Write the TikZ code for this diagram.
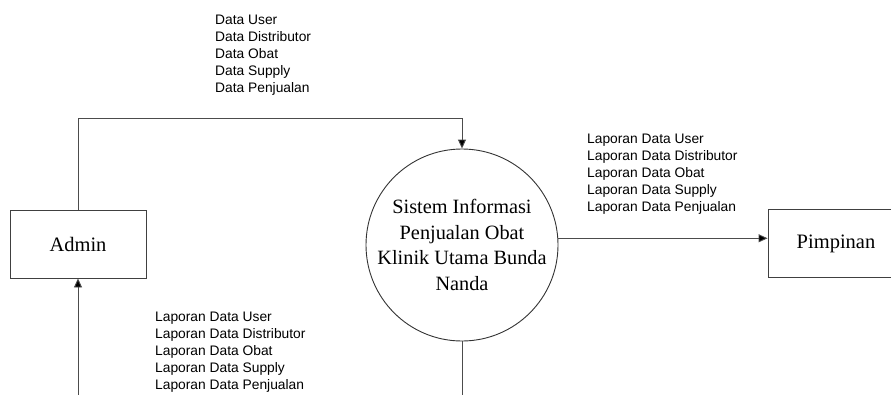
\documentclass[tikz,border=0pt]{standalone}
\usepackage{fontspec}
\setmainfont{Liberation Serif}
\setsansfont{Liberation Sans}
\usetikzlibrary{arrows.meta}
\begin{document}
\begin{tikzpicture}[x=1pt,y=-1pt,
  entity/.style={draw=black!75,line width=0.9pt,minimum width=136pt,minimum height=68pt,inner sep=0pt,font=\fontsize{20.5}{24}\selectfont},
  process/.style={draw=black!80,line width=0.9pt,circle,minimum size=192pt,inner sep=0pt,align=center,font=\fontsize{20.3}{25.5}\selectfont},
  flow/.style={draw=black!70,line width=0.9pt,-{Triangle[length=9pt,width=8pt,fill=black]}},
  line/.style={draw=black!70,line width=0.9pt},
  lbl/.style={align=left,inner sep=0pt,anchor=north west,text=black,font=\sffamily\fontsize{13.8}{17.1}\selectfont}]
\useasboundingbox (0,0) rectangle (891,394);
\clip (0,0) rectangle (891,394);
\node[entity] (admin) at (78,244) {Admin};
\node[process] (sis) at (462,245) {Sistem Informasi\\Penjualan Obat\\Klinik Utama Bunda\\Nanda};
\node[entity] (pim) at (836,243.5) {Pimpinan};
\coordinate (tl) at (78,118);
\coordinate (tr) at (462,118);
\coordinate (bl) at (78,400);
\coordinate (br) at (462,400);
\draw[flow] (admin.north) -- (tl) -- (tr) -- (sis.north);
\draw[flow] (sis.4) -- (sis.4 -| pim.west);
\draw[line] (sis.south) -- (br);
\draw[flow] (bl) -- (admin.south);
\node[lbl] (l1) at (215,14.5) {Data User\\Data Distributor\\Data Obat\\Data Supply\\Data Penjualan};
\node[lbl] (l2) at (587,133.5) {Laporan Data User\\Laporan Data Distributor\\Laporan Data Obat\\Laporan Data Supply\\Laporan Data Penjualan};
\node[lbl] (l3) at (155,311.5) {Laporan Data User\\Laporan Data Distributor\\Laporan Data Obat\\Laporan Data Supply\\Laporan Data Penjualan};
\end{tikzpicture}
\end{document}
